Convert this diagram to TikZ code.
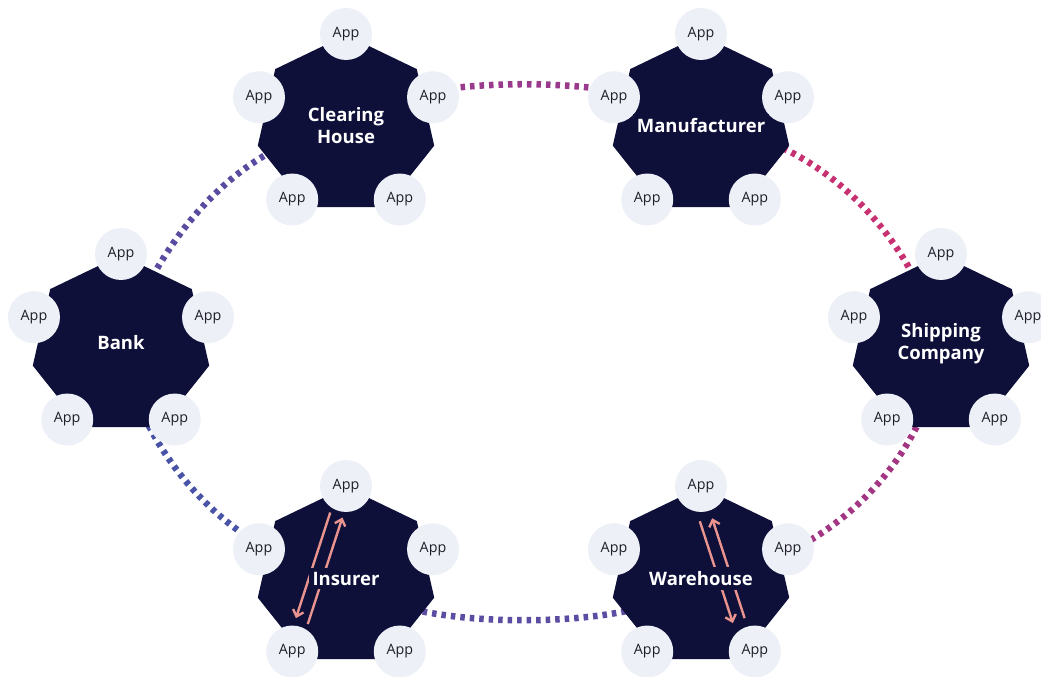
\documentclass[tikz,border=0pt]{standalone}
\usepackage{fontspec}
\setmainfont{Open Sans}
\usetikzlibrary{shapes.geometric,backgrounds,arrows.meta}
\definecolor{navy}{RGB}{14,16,58}
\definecolor{appfill}{RGB}{238,240,248}
\definecolor{apptext}{RGB}{30,30,40}
\definecolor{salmon}{RGB}{233,148,142}
\definecolor{indigoA}{RGB}{90,75,160}
\definecolor{indigoB}{RGB}{74,84,166}
\definecolor{indigoC}{RGB}{92,76,162}
\definecolor{plum}{RGB}{154,58,140}
\definecolor{berry}{RGB}{200,49,113}
\definecolor{orchid}{RGB}{163,54,131}

\begin{document}
\begin{tikzpicture}[x=1pt,y=1pt,
    org/.style={regular polygon,regular polygon sides=7,minimum size=181pt,inner sep=0pt,fill=navy},
    app/.style={circle,minimum size=52pt,inner sep=0pt,fill=appfill,text=apptext,font=\fontsize{14.3}{17}\selectfont},
    orgname/.style={fill=navy,text=white,align=center,inner sep=4pt,font=\fontsize{18.5}{21.5}\selectfont\bfseries},
    link/.style={line width=6.5pt,dash pattern=on 4.5pt off 5pt},
    flow/.style={salmon,line width=2.4pt,-{Straight Barb[length=6pt,width=11pt]}}]
  \useasboundingbox (0,0) rectangle (1041,677);

  % the six parties
  \node[org] (bank)  at (121,331.5) {};
  \node[org] (clear) at (346,551.5) {};
  \node[org] (manuf) at (701,551.5) {};
  \node[org] (ship)  at (941,331.5) {};
  \node[org] (ins)   at (346,99.5) {};
  \node[org] (ware)  at (701,99.5) {};

  % dotted ring behind the parties
  \begin{pgfonlayer}{background}
    \draw[link,indigoA] (bank.center) .. controls +(37,102) and +(-114,-19) .. (clear.center);
    \draw[link,indigoB] (bank.center) .. controls +(21,-112) and +(-114,21) .. (ins.center);
    \draw[link,indigoC] (ins.center) .. controls +(42,-57) and +(-42,-57) .. (ware.center);
    \draw[link,plum] (clear.center) .. controls +(37,55) and +(-37,55) .. (manuf.center);
    \draw[link,berry] (manuf.center) .. controls +(117,-10) and +(-28,110) .. (ship.center);
    \draw[link,orchid] (ship.center) .. controls +(-13,-120) and +(118,12) .. (ware.center);
  \end{pgfonlayer}

  \foreach \n in {bank,clear,manuf,ship,ins,ware}
    \foreach \a in {90,162,18,234,306}
      \node[app] (\n-\a) at ([shift={(\a:91.5)}]\n.center) {App};

  % messages between apps
  \draw[flow,shorten <=30pt,shorten >=33pt] ([shift={(-6.5,2)}]ins-90.center) -- ([shift={(-6.5,2)}]ins-234.center);
  \draw[flow,shorten <=31pt,shorten >=31pt] ([shift={(6,-2)}]ins-234.center) -- ([shift={(6,-2)}]ins-90.center);
  \draw[flow,shorten <=35pt,shorten >=32pt] ([shift={(-12,-2)}]ware-90.center) -- ([shift={(-12,-2)}]ware-306.center);
  \draw[flow,shorten <=33pt,shorten >=36pt] ([shift={(0,2)}]ware-306.center) -- ([shift={(0,2)}]ware-90.center);

  \node[orgname] (bank-name)  at ([yshift=3]bank.center) {Bank};
  \node[orgname] (clear-name) at (clear.center) {Clearing\\House};
  \node[orgname] (manuf-name) at (manuf.center) {Manufacturer};
  \node[orgname] (ship-name)  at ([yshift=2]ship.center) {Shipping\\Company};
  \node[orgname] (ins-name)   at ([yshift=-1]ins.center) {Insurer};
  \node[orgname] (ware-name)  at ([yshift=-1]ware.center) {Warehouse};
\end{tikzpicture}
\end{document}
